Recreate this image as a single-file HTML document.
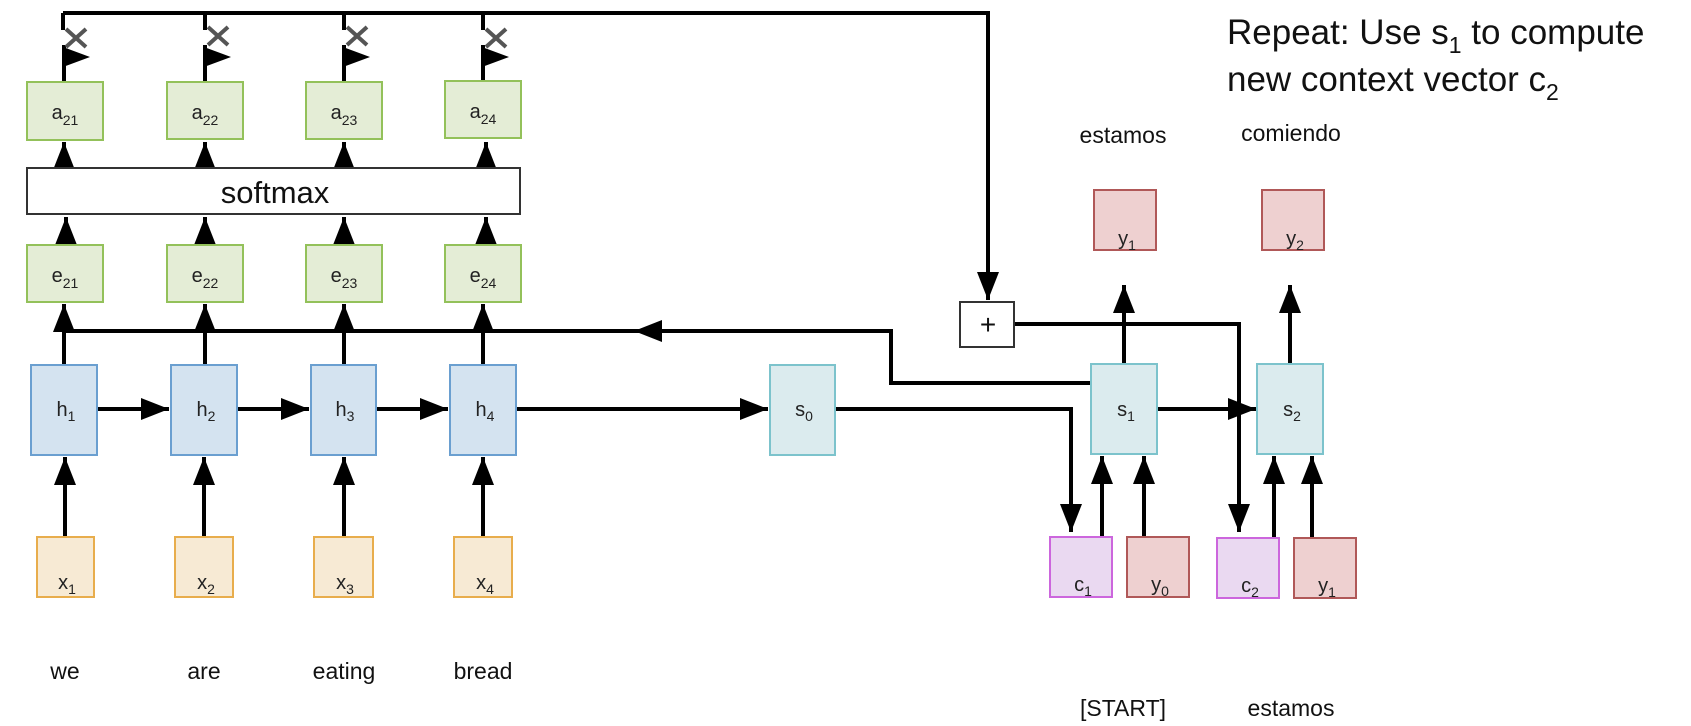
<!DOCTYPE html>
<html><head><meta charset="utf-8"><style>
html,body{margin:0;padding:0;background:#fff;}
svg{display:block;font-family:"Liberation Sans",Arial,sans-serif;}
</style></head><body>
<svg width="1691" height="726" viewBox="0 0 1691 726" xmlns="http://www.w3.org/2000/svg">
<defs>
<marker id="ah" markerUnits="userSpaceOnUse" markerWidth="30" markerHeight="24" refX="28" refY="11" orient="auto">
<path d="M0,0 L28,11 L0,22 z" fill="#000"/>
</marker>
</defs>
<g stroke="#000" stroke-width="4" fill="none">
<polyline points="63,13 988,13 988,300" marker-end="url(#ah)"/>
<line x1="63" y1="13" x2="63" y2="30"/><line x1="205" y1="13" x2="205" y2="30"/>
<line x1="344" y1="13" x2="344" y2="30"/><line x1="483" y1="13" x2="483" y2="30"/>
<line x1="64" y1="45" x2="64" y2="82"/><line x1="205" y1="45" x2="205" y2="82"/>
<line x1="344" y1="45" x2="344" y2="82"/><line x1="483" y1="45" x2="483" y2="82"/>
<line x1="64" y1="168" x2="64" y2="142" marker-end="url(#ah)"/>
<line x1="205" y1="168" x2="205" y2="142" marker-end="url(#ah)"/>
<line x1="344" y1="168" x2="344" y2="142" marker-end="url(#ah)"/>
<line x1="486" y1="168" x2="486" y2="142" marker-end="url(#ah)"/>
<line x1="66" y1="245" x2="66" y2="217" marker-end="url(#ah)"/>
<line x1="205" y1="245" x2="205" y2="217" marker-end="url(#ah)"/>
<line x1="344" y1="245" x2="344" y2="217" marker-end="url(#ah)"/>
<line x1="486" y1="245" x2="486" y2="217" marker-end="url(#ah)"/>
<polyline points="1091,383 891,383 891,331 63,331"/>
<line x1="700" y1="331" x2="634" y2="331" marker-end="url(#ah)"/>
<line x1="64" y1="365" x2="64" y2="304" marker-end="url(#ah)"/>
<line x1="205" y1="365" x2="205" y2="304" marker-end="url(#ah)"/>
<line x1="344" y1="365" x2="344" y2="304" marker-end="url(#ah)"/>
<line x1="483" y1="365" x2="483" y2="304" marker-end="url(#ah)"/>
<line x1="97" y1="409" x2="169" y2="409" marker-end="url(#ah)"/>
<line x1="237" y1="409" x2="309" y2="409" marker-end="url(#ah)"/>
<line x1="376" y1="409" x2="448" y2="409" marker-end="url(#ah)"/>
<line x1="516" y1="409" x2="768" y2="409" marker-end="url(#ah)"/>
<line x1="65" y1="537" x2="65" y2="457" marker-end="url(#ah)"/>
<line x1="204" y1="537" x2="204" y2="457" marker-end="url(#ah)"/>
<line x1="344" y1="537" x2="344" y2="457" marker-end="url(#ah)"/>
<line x1="483" y1="537" x2="483" y2="457" marker-end="url(#ah)"/>
<polyline points="835,409 1071,409 1071,532" marker-end="url(#ah)"/>
<polyline points="1014,324 1239,324 1239,532" marker-end="url(#ah)"/>
<line x1="1157" y1="409" x2="1256" y2="409" marker-end="url(#ah)"/>
<line x1="1102" y1="537" x2="1102" y2="456" marker-end="url(#ah)"/>
<line x1="1144" y1="537" x2="1144" y2="456" marker-end="url(#ah)"/>
<line x1="1274" y1="537" x2="1274" y2="456" marker-end="url(#ah)"/>
<line x1="1312" y1="537" x2="1312" y2="456" marker-end="url(#ah)"/>
<line x1="1124" y1="364" x2="1124" y2="285" marker-end="url(#ah)"/>
<line x1="1290" y1="364" x2="1290" y2="285" marker-end="url(#ah)"/>
</g>
<g fill="#000">
<path d="M63,47 L90,57 L63,67 z"/><path d="M204,47 L231,57 L204,67 z"/>
<path d="M343,47 L370,57 L343,67 z"/><path d="M482,47 L509,57 L482,67 z"/>
</g>
<g stroke="#555" stroke-width="4">
<path d="M66,29 L86,47 M86,29 L66,47"/><path d="M208,27 L228,45 M228,27 L208,45"/>
<path d="M347,27 L367,45 M367,27 L347,45"/><path d="M486,29 L506,47 M506,29 L486,47"/>
</g>
<g fill="#e4edd6" stroke="#93c15a" stroke-width="2">
<rect x="27" y="82" width="76" height="58"/><rect x="167" y="82" width="76" height="57"/>
<rect x="306" y="82" width="76" height="57"/><rect x="445" y="81" width="76" height="57"/>
<rect x="27" y="245" width="76" height="57"/><rect x="167" y="245" width="76" height="57"/>
<rect x="306" y="245" width="76" height="57"/><rect x="445" y="245" width="76" height="57"/>
</g>
<rect x="27" y="168" width="493" height="46" fill="#fff" stroke="#333" stroke-width="2"/>
<text x="275" y="203" font-size="31" text-anchor="middle" fill="#111">softmax</text>
<g fill="#d4e3f0" stroke="#6a9fd0" stroke-width="2">
<rect x="31" y="365" width="66" height="90"/><rect x="171" y="365" width="66" height="90"/>
<rect x="311" y="365" width="65" height="90"/><rect x="450" y="365" width="66" height="90"/>
</g>
<g fill="#f7ead4" stroke="#e8ad4c" stroke-width="2">
<rect x="37" y="537" width="57" height="60"/><rect x="175" y="537" width="58" height="60"/>
<rect x="314" y="537" width="59" height="60"/><rect x="454" y="537" width="58" height="60"/>
</g>
<g fill="#dbebee" stroke="#7cc3cc" stroke-width="2">
<rect x="770" y="365" width="65" height="90"/><rect x="1091" y="364" width="66" height="90"/>
<rect x="1257" y="364" width="66" height="90"/>
</g>
<g fill="#ead9f1" stroke="#cc66dd" stroke-width="2">
<rect x="1050" y="537" width="62" height="60"/><rect x="1217" y="538" width="62" height="60"/>
</g>
<g fill="#eed0d0" stroke="#b05858" stroke-width="2">
<rect x="1127" y="537" width="62" height="60"/><rect x="1294" y="538" width="62" height="60"/>
<rect x="1094" y="190" width="62" height="60"/><rect x="1262" y="190" width="62" height="60"/>
</g>
<rect x="960" y="302" width="54" height="45" fill="#fff" stroke="#333" stroke-width="2"/>
<text x="988" y="334" font-size="28" text-anchor="middle" fill="#111">+</text>
<g font-size="20" fill="#222" text-anchor="middle">
<text x="65" y="119">a<tspan font-size="14" dy="6">21</tspan></text>
<text x="205" y="119">a<tspan font-size="14" dy="6">22</tspan></text>
<text x="344" y="119">a<tspan font-size="14" dy="6">23</tspan></text>
<text x="483" y="118">a<tspan font-size="14" dy="6">24</tspan></text>
<text x="65" y="282">e<tspan font-size="14" dy="6">21</tspan></text>
<text x="205" y="282">e<tspan font-size="14" dy="6">22</tspan></text>
<text x="344" y="282">e<tspan font-size="14" dy="6">23</tspan></text>
<text x="483" y="282">e<tspan font-size="14" dy="6">24</tspan></text>
<text x="66" y="416">h<tspan font-size="14" dy="5">1</tspan></text>
<text x="206" y="416">h<tspan font-size="14" dy="5">2</tspan></text>
<text x="345" y="416">h<tspan font-size="14" dy="5">3</tspan></text>
<text x="485" y="416">h<tspan font-size="14" dy="5">4</tspan></text>
<text x="67" y="589">x<tspan font-size="14" dy="5">1</tspan></text>
<text x="206" y="589">x<tspan font-size="14" dy="5">2</tspan></text>
<text x="345" y="589">x<tspan font-size="14" dy="5">3</tspan></text>
<text x="485" y="589">x<tspan font-size="14" dy="5">4</tspan></text>
<text x="804" y="416">s<tspan font-size="14" dy="5">0</tspan></text>
<text x="1126" y="416">s<tspan font-size="14" dy="5">1</tspan></text>
<text x="1292" y="416">s<tspan font-size="14" dy="5">2</tspan></text>
<text x="1083" y="591">c<tspan font-size="14" dy="5">1</tspan></text>
<text x="1160" y="591">y<tspan font-size="14" dy="5">0</tspan></text>
<text x="1250" y="592">c<tspan font-size="14" dy="5">2</tspan></text>
<text x="1327" y="592">y<tspan font-size="14" dy="5">1</tspan></text>
<text x="1127" y="245">y<tspan font-size="14" dy="5">1</tspan></text>
<text x="1295" y="245">y<tspan font-size="14" dy="5">2</tspan></text>
</g>
<g font-size="23" fill="#111" text-anchor="middle">
<text x="65" y="679">we</text><text x="204" y="679">are</text>
<text x="344" y="679">eating</text><text x="483" y="679">bread</text>
<text x="1123" y="716">[START]</text><text x="1291" y="716">estamos</text>
<text x="1123" y="143">estamos</text><text x="1291" y="141">comiendo</text>
</g>
<g font-size="35" fill="#111">
<text x="1227" y="44">Repeat: Use s<tspan font-size="23" dy="9">1</tspan><tspan dy="-9"> to compute</tspan></text>
<text x="1227" y="91">new context vector c<tspan font-size="23" dy="9">2</tspan></text>
</g>
</svg>
</body></html>
